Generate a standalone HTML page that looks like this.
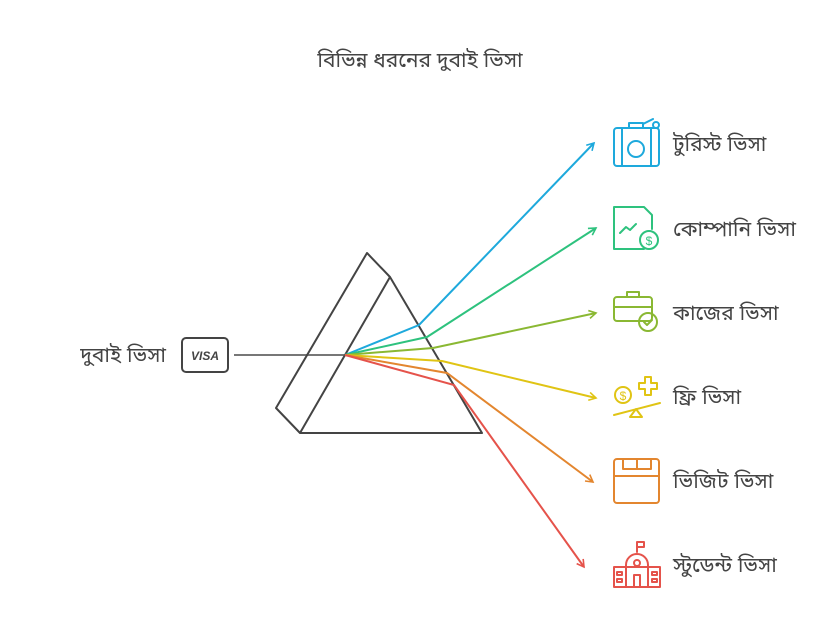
<!DOCTYPE html>
<html><head><meta charset="utf-8"><style>
body{margin:0;background:#fff;}
svg text{font-family:"Liberation Sans","Noto Sans Bengali",sans-serif;fill:#444;}
</style></head><body>
<svg width="830" height="638" viewBox="0 0 830 638" xmlns="http://www.w3.org/2000/svg">
<defs>
<marker id="a" markerWidth="10" markerHeight="10" refX="8" refY="5" orient="auto" markerUnits="userSpaceOnUse"><path d="M1,1 L8,5 L1,9" fill="none" stroke="context-stroke" stroke-width="1.6"/></marker>
</defs>
<text x="420" y="67" font-size="21" text-anchor="middle">বিভিন্ন ধরনের দুবাই ভিসা</text>
<text x="166" y="362" font-size="21" text-anchor="end">দুবাই ভিসা</text>
<rect x="182" y="338" width="46" height="34" rx="4" fill="none" stroke="#444" stroke-width="2"/>
<text x="205" y="360" font-size="12" font-weight="bold" font-style="italic" text-anchor="middle" style="fill:#444">VISA</text>
<line x1="234" y1="355" x2="345" y2="355" stroke="#777" stroke-width="2"/>
<g fill="none" stroke="#444" stroke-width="2" stroke-linejoin="round">
<path d="M367,253 L390,277 L300,433 L276,408 Z"/>
<path d="M390,277 L482,433 L300,433"/>
</g>
<g fill="none" stroke-width="2">
<polyline points="345,355 419,325 594,143" stroke="#1ea9dc" marker-end="url(#a)"/>
<polyline points="345,355 427,337 596,228" stroke="#2ec27e" marker-end="url(#a)"/>
<polyline points="345,355 433,348 596,313" stroke="#8ab833" marker-end="url(#a)"/>
<polyline points="345,355 442,361 596,398" stroke="#e0c414" marker-end="url(#a)"/>
<polyline points="345,355 447,373 593,482" stroke="#e3862f" marker-end="url(#a)"/>
<polyline points="345,355 454,385 584,567" stroke="#e5534b" marker-end="url(#a)"/>
</g>
<g font-size="21">
<text x="673" y="151">টুরিস্ট ভিসা</text>
<text x="673" y="236">কোম্পানি ভিসা</text>
<text x="673" y="320">কাজের ভিসা</text>
<text x="673" y="404">ফ্রি ভিসা</text>
<text x="673" y="488">ভিজিট ভিসা</text>
<text x="673" y="572">স্টুডেন্ট ভিসা</text>
</g>
<g fill="none" stroke-width="2" stroke-linecap="round" stroke-linejoin="round">
<g stroke="#1ea9dc"><rect x="614" y="128" width="45" height="38" rx="3"/><line x1="622" y1="128" x2="622" y2="166"/><line x1="651" y1="128" x2="651" y2="166"/><circle cx="636" cy="149" r="8"/><path d="M629,128 v-5 h14 v5 M643,124 l10,-5"/><circle cx="656" cy="125" r="3"/></g>
<g stroke="#2ec27e"><path d="M614,207 h30 l8,8 v14 M614,207 v42 h30"/><path d="M620,233 l6,-6 4,3 6,-6"/><circle cx="649" cy="240" r="9"/><text x="649" y="245" font-size="12" text-anchor="middle" stroke="none" style="fill:#2ec27e">$</text></g>
<g stroke="#8ab833"><rect x="614" y="297" width="38" height="24" rx="3"/><path d="M627,297 v-5 h12 v5 M614,307 h38"/><circle cx="648" cy="322" r="9"/><path d="M644,322 l3,3 5,-5"/></g>
<g stroke="#e0c414"><circle cx="623" cy="395" r="8"/><text x="623" y="400" font-size="12" text-anchor="middle" stroke="none" style="fill:#e0c414">$</text><path d="M645,377 h6 v6 h6 v6 h-6 v6 h-6 v-6 h-6 v-6 h6 z"/><line x1="614" y1="415" x2="660" y2="403"/><path d="M636,409 l-6,8 h12 z"/></g>
<g stroke="#e3862f"><rect x="614" y="459" width="45" height="44" rx="3"/><line x1="614" y1="476" x2="659" y2="476"/><path d="M623,459 v10 h28 v-10 M637,459 v10"/></g>
<g stroke="#e5534b"><rect x="614" y="567" width="46" height="20"/><path d="M626,587 v-22 a11,11 0 0 1 22,0 v22"/><circle cx="637" cy="563" r="3"/><path d="M634,587 v-12 h6 v12"/><path d="M637,552 v-10 h7 v5 h-7"/><rect x="617" y="572" width="5" height="3"/><rect x="617" y="579" width="5" height="3"/><rect x="652" y="572" width="5" height="3"/><rect x="652" y="579" width="5" height="3"/></g>
</g>
</svg>
</body></html>
